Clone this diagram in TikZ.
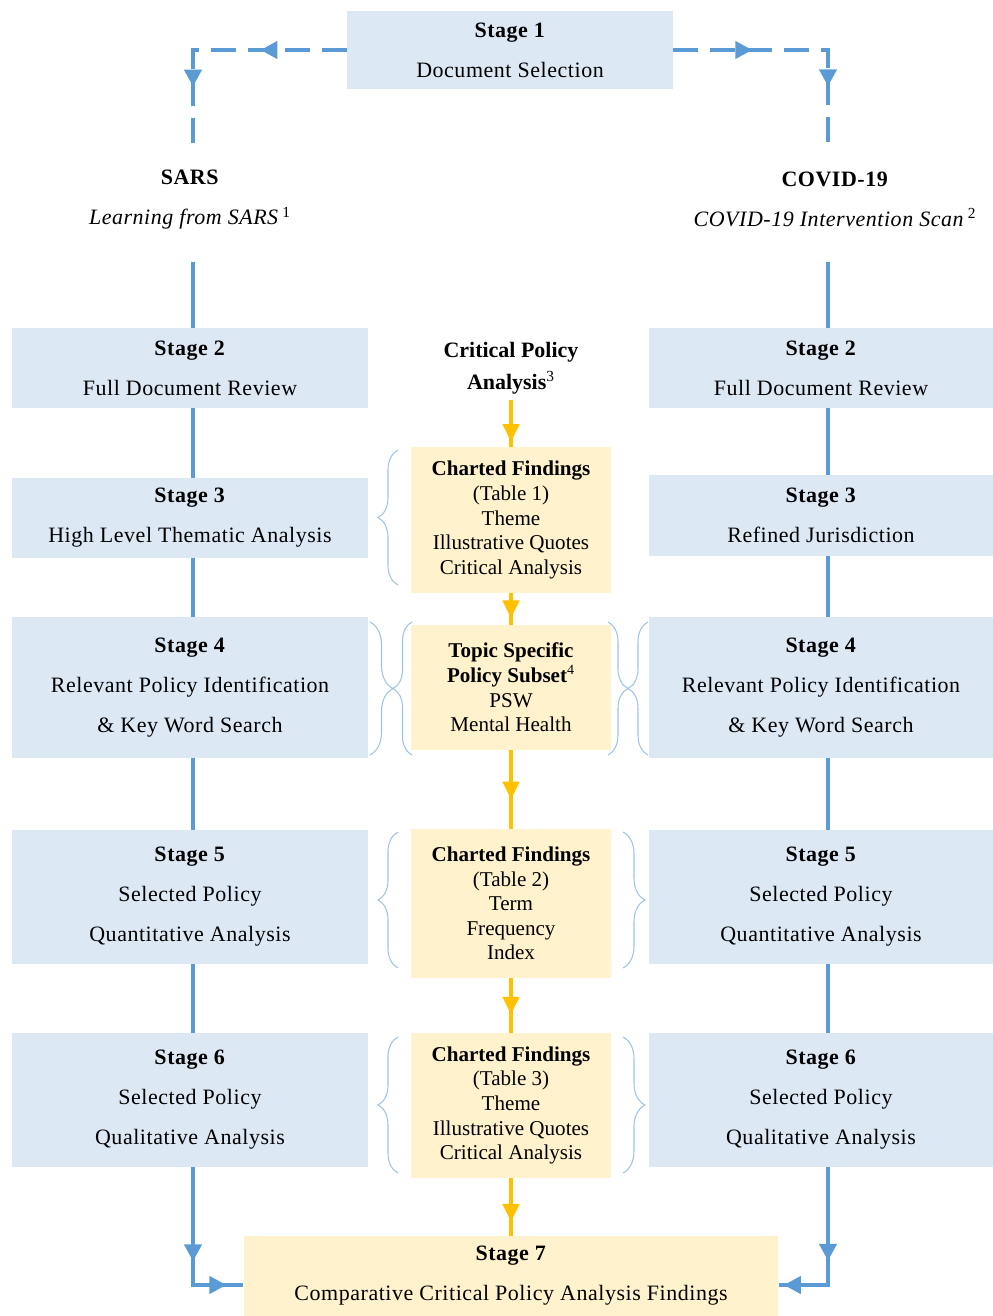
\documentclass[tikz,border=0pt]{standalone}
\usepackage{fontspec}
\setmainfont{Liberation Serif}
\newfontfamily\spaced[LetterSpace=2.5]{Liberation Serif}
\usetikzlibrary{arrows.meta,decorations.markings,decorations.pathreplacing}
\definecolor{boxblue}{HTML}{DDE8F5}
\definecolor{boxyellow}{HTML}{FFF2CC}
\definecolor{lineblue}{HTML}{5B9BD5}
\definecolor{lineorange}{HTML}{FFC000}
\definecolor{bracecol}{HTML}{9DC3E6}
\tikzset{
  stagebox/.style={fill=boxblue, minimum width=7.12cm, minimum height=1.6cm, inner sep=0pt,
    align=center, font=\spaced\fontsize{12.5}{22.8}\selectfont},
  findbox/.style={fill=boxyellow, minimum width=4.02cm, inner sep=0pt,
    align=center, font=\fontsize{12}{14}\selectfont},
  sidelabel/.style={align=center, inner sep=0.3cm, font=\spaced\fontsize{12.5}{22.8}\selectfont},
  blueflow/.style={draw=lineblue, line width=2.8pt},
  orangeflow/.style={draw=lineorange, line width=2.6pt, postaction={decorate},
    decoration={markings, mark=at position #1 with {\arrow{Triangle[width=0.32cm,length=0.36cm]}}}},
  twotips/.style 2 args={postaction={decorate},
    decoration={markings,
      mark=at position #1 with {\arrow{Triangle[width=0.34cm,length=0.34cm]}},
      mark=at position #2 with {\arrow{Triangle[width=0.34cm,length=0.34cm]}}}},
  curly/.style={draw=bracecol, line width=0.6pt, decorate, decoration={brace, amplitude=#1}}
}
\begin{document}
\begin{tikzpicture}[x=0.02cm, y=-0.02cm, color=black]
  \useasboundingbox (0,0) rectangle (993,1316);
  % columns
  \coordinate (lx) at (193,0);
  \coordinate (rx) at (828,0);
  \coordinate (LD) at (193,150);
  \coordinate (RD) at (828,150);
  \coordinate (LT) at (193,262);
  \coordinate (RT) at (828,262);

  \node[stagebox, minimum width=6.52cm, minimum height=1.58cm] (S1) at (510,50) {\textbf{Stage 1}\\Document Selection};

  \node[sidelabel] (SARS) at (190,200) {\textbf{SARS}\\\textit{Learning from SARS}\,\textsuperscript{1}};
  \node[sidelabel] (COV) at (835,199) {\textbf{COVID-19}\\\textit{COVID-19 Intervention Scan}\,\textsuperscript{2}};

  % left column
  \node[stagebox] (S2L) at (190,368) {\textbf{Stage 2}\\Full Document Review};
  \node[stagebox] (S3L) at (190,518) {\textbf{Stage 3}\\High Level Thematic Analysis};
  \node[stagebox, minimum height=2.82cm] (S4L) at (190,687.5) {\textbf{Stage 4}\\Relevant Policy Identification\\\& Key Word Search};
  \node[stagebox, minimum height=2.68cm] (S5L) at (190,897) {\textbf{Stage 5}\\Selected Policy\\Quantitative Analysis};
  \node[stagebox, minimum height=2.68cm] (S6L) at (190,1100) {\textbf{Stage 6}\\Selected Policy\\Qualitative Analysis};

  % right column
  \node[stagebox, minimum width=6.9cm] (S2R) at (821,368) {\textbf{Stage 2}\\Full Document Review};
  \node[stagebox, minimum width=6.9cm, minimum height=1.62cm] (S3R) at (821,515.5) {\textbf{Stage 3}\\Refined Jurisdiction};
  \node[stagebox, minimum width=6.9cm, minimum height=2.82cm] (S4R) at (821,687.5) {\textbf{Stage 4}\\Relevant Policy Identification\\\& Key Word Search};
  \node[stagebox, minimum width=6.9cm, minimum height=2.68cm] (S5R) at (821,897) {\textbf{Stage 5}\\Selected Policy\\Quantitative Analysis};
  \node[stagebox, minimum width=6.9cm, minimum height=2.68cm] (S6R) at (821,1100) {\textbf{Stage 6}\\Selected Policy\\Qualitative Analysis};

  % middle column
  \node[align=center, font=\fontsize{12.5}{18.2}\selectfont] (CPA) at (511,368) {\textbf{Critical Policy}\\\textbf{Analysis}\textsuperscript{3}};
  \node[findbox, minimum height=2.92cm] (CF1) at (511,520) {\textbf{Charted Findings}\\(Table 1)\\Theme\\Illustrative Quotes\\Critical Analysis};
  \node[findbox, minimum width=4cm, minimum height=2.5cm] (TSP) at (511,687.5) {\textbf{Topic Specific}\\\textbf{Policy Subset}\textsuperscript{4}\\PSW\\Mental Health};
  \node[findbox, minimum height=2.98cm] (CF2) at (511,903.5) {\textbf{Charted Findings}\\(Table 2)\\Term\\Frequency\\Index};
  \node[findbox, minimum height=2.9cm] (CF3) at (511,1105.5) {\textbf{Charted Findings}\\(Table 3)\\Theme\\Illustrative Quotes\\Critical Analysis};
  \node[stagebox, fill=boxyellow, minimum width=10.7cm] (S7) at (511,1276) {\textbf{Stage 7}\\Comparative Critical Policy Analysis Findings};

  % dashed split from stage 1
  \draw[blueflow, dash pattern=on 0.5cm off 0.24cm, twotips={0.34}{0.75}] (S1.west) -| (LD);
  \draw[blueflow, dash pattern=on 0.5cm off 0.24cm, twotips={0.31}{0.75}] (S1.east) -| (RD);

  % solid column lines
  \draw[blueflow] (LT) -- (S2L.north -| lx);
  \draw[blueflow] (S2L.south -| lx) -- (S3L.north -| lx);
  \draw[blueflow] (S3L.south -| lx) -- (S4L.north -| lx);
  \draw[blueflow] (S4L.south -| lx) -- (S5L.north -| lx);
  \draw[blueflow] (S5L.south -| lx) -- (S6L.north -| lx);
  \draw[blueflow] (RT) -- (S2R.north -| rx);
  \draw[blueflow] (S2R.south -| rx) -- (S3R.north -| rx);
  \draw[blueflow] (S3R.south -| rx) -- (S4R.north -| rx);
  \draw[blueflow] (S4R.south -| rx) -- (S5R.north -| rx);
  \draw[blueflow] (S5R.south -| rx) -- (S6R.north -| rx);

  % into stage 7
  \draw[blueflow, twotips={0.56}{0.9}] (S6L.south -| lx) |- ([yshift=-0.18cm]S7.west);
  \draw[blueflow, twotips={0.56}{0.97}] (S6R.south -| rx) |- ([yshift=-0.18cm]S7.east);

  % middle arrows
  \draw[orangeflow=0.9] (CPA.south) -- (CF1.north);
  \draw[orangeflow=0.8] (CF1.south) -- (TSP.north);
  \draw[orangeflow=0.63] (TSP.south) -- (CF2.north);
  \draw[orangeflow=0.67] (CF2.south) -- (CF3.north);
  \draw[orangeflow=0.76] (CF3.south) -- (S7.north);

  % braces
  \draw[curly=0.4cm] (398,585) -- (398,450);
  \draw[curly=0.46cm] (370,622) -- (370,755);
  \draw[curly=0.38cm] (412,755) -- (412,622);
  \draw[curly=0.4cm] (608,622) -- (608,755);
  \draw[curly=0.4cm] (648,755) -- (648,622);
  \draw[curly=0.4cm] (398,968) -- (398,832);
  \draw[curly=0.44cm] (623,832) -- (623,968);
  \draw[curly=0.4cm] (398,1173) -- (398,1037);
  \draw[curly=0.44cm] (623,1037) -- (623,1173);
\end{tikzpicture}
\end{document}
